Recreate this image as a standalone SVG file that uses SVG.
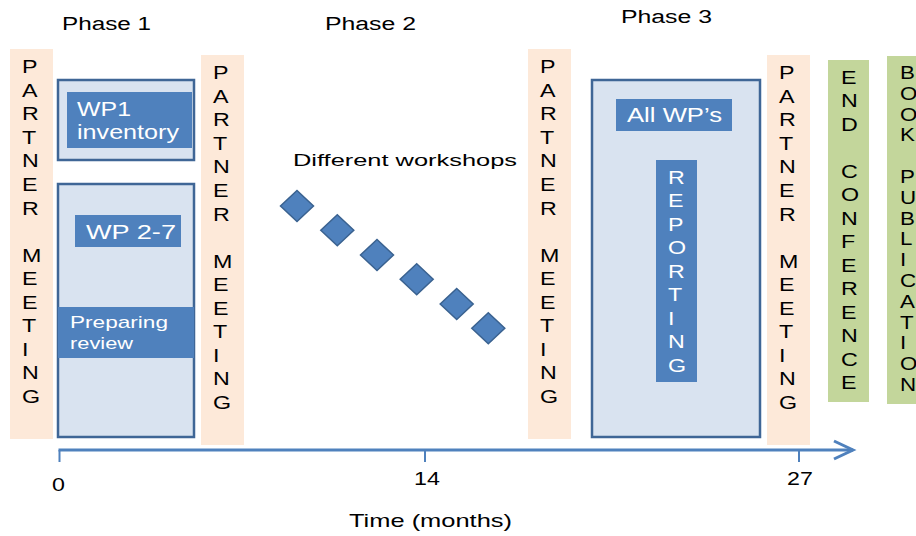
<svg xmlns="http://www.w3.org/2000/svg" width="916" height="536" viewBox="0 0 916 536">
<defs>
<style>
.t{font-family:"Liberation Sans",Arial,sans-serif;fill:#000}
.w{font-family:"Liberation Sans",Arial,sans-serif;fill:#fff}
.pm{fill:#FDE9D9}
.gr{fill:#C3D69B}
.outer{fill:#D9E3F0;stroke:#3F6696;stroke-width:2.5}
.inner{fill:#4F81BD}
.dia{fill:#4F81BD;stroke:#3A6290;stroke-width:1.5}
.ax{stroke:#4F81BD;fill:none;stroke-width:3}
.tk{stroke:#4F81BD;stroke-width:2}
.v{font-size:18.6px}
</style>
</defs>
<rect width="916" height="536" fill="#fff"/>

<g id="labels">
<text class="t" x="62" y="30" font-size="18" textLength="89" lengthAdjust="spacingAndGlyphs">Phase 1</text>
<text class="t" x="325" y="30" font-size="18" textLength="91" lengthAdjust="spacingAndGlyphs">Phase 2</text>
<text class="t" x="621" y="23" font-size="18" textLength="91" lengthAdjust="spacingAndGlyphs">Phase 3</text>
<text class="t" x="293" y="166" font-size="17.2" textLength="224" lengthAdjust="spacingAndGlyphs">Different workshops</text>
<text class="t" x="58.5" y="491" font-size="18.6" text-anchor="middle" transform="translate(58.5,0) scale(1.25,1) translate(-58.5,0)">0</text>
<text class="t" x="427" y="485" font-size="18.6" text-anchor="middle" transform="translate(427,0) scale(1.25,1) translate(-427,0)">14</text>
<text class="t" x="800" y="485" font-size="18.6" text-anchor="middle" transform="translate(800,0) scale(1.25,1) translate(-800,0)">27</text>
<text class="t" x="349" y="527" font-size="18.6" textLength="163" lengthAdjust="spacingAndGlyphs">Time (months)</text>
</g>

<g id="meeting1">
<rect class="pm" x="10" y="49" width="43" height="390"/>
<text class="t v" transform="translate(22,73.3) scale(1.25,1)"><tspan x="0" y="0">P</tspan><tspan x="0" dy="23.55">A</tspan><tspan x="0" dy="23.55">R</tspan><tspan x="0" dy="23.55">T</tspan><tspan x="0" dy="23.55">N</tspan><tspan x="0" dy="23.55">E</tspan><tspan x="0" dy="23.55">R</tspan><tspan x="0" dy="47.1">M</tspan><tspan x="0" dy="23.55">E</tspan><tspan x="0" dy="23.55">E</tspan><tspan x="0" dy="23.55">T</tspan><tspan x="0" dy="23.55">I</tspan><tspan x="0" dy="23.55">N</tspan><tspan x="0" dy="23.55">G</tspan></text>
</g>

<g id="meeting2">
<rect class="pm" x="201" y="55" width="43" height="390"/>
<text class="t v" transform="translate(213,79.3) scale(1.25,1)"><tspan x="0" y="0">P</tspan><tspan x="0" dy="23.55">A</tspan><tspan x="0" dy="23.55">R</tspan><tspan x="0" dy="23.55">T</tspan><tspan x="0" dy="23.55">N</tspan><tspan x="0" dy="23.55">E</tspan><tspan x="0" dy="23.55">R</tspan><tspan x="0" dy="47.1">M</tspan><tspan x="0" dy="23.55">E</tspan><tspan x="0" dy="23.55">E</tspan><tspan x="0" dy="23.55">T</tspan><tspan x="0" dy="23.55">I</tspan><tspan x="0" dy="23.55">N</tspan><tspan x="0" dy="23.55">G</tspan></text>
</g>

<g id="meeting3">
<rect class="pm" x="528" y="49" width="43" height="390"/>
<text class="t v" transform="translate(540,73.3) scale(1.25,1)"><tspan x="0" y="0">P</tspan><tspan x="0" dy="23.55">A</tspan><tspan x="0" dy="23.55">R</tspan><tspan x="0" dy="23.55">T</tspan><tspan x="0" dy="23.55">N</tspan><tspan x="0" dy="23.55">E</tspan><tspan x="0" dy="23.55">R</tspan><tspan x="0" dy="47.1">M</tspan><tspan x="0" dy="23.55">E</tspan><tspan x="0" dy="23.55">E</tspan><tspan x="0" dy="23.55">T</tspan><tspan x="0" dy="23.55">I</tspan><tspan x="0" dy="23.55">N</tspan><tspan x="0" dy="23.55">G</tspan></text>
</g>

<g id="meeting4">
<rect class="pm" x="767" y="55" width="43" height="390"/>
<text class="t v" transform="translate(779,79.3) scale(1.25,1)"><tspan x="0" y="0">P</tspan><tspan x="0" dy="23.55">A</tspan><tspan x="0" dy="23.55">R</tspan><tspan x="0" dy="23.55">T</tspan><tspan x="0" dy="23.55">N</tspan><tspan x="0" dy="23.55">E</tspan><tspan x="0" dy="23.55">R</tspan><tspan x="0" dy="47.1">M</tspan><tspan x="0" dy="23.55">E</tspan><tspan x="0" dy="23.55">E</tspan><tspan x="0" dy="23.55">T</tspan><tspan x="0" dy="23.55">I</tspan><tspan x="0" dy="23.55">N</tspan><tspan x="0" dy="23.55">G</tspan></text>
</g>

<g id="wp1">
<rect class="outer" x="58" y="80" width="136" height="80"/>
<rect class="inner" x="67" y="92" width="125" height="56"/>
<text class="w" x="77" y="116" font-size="20" textLength="54" lengthAdjust="spacingAndGlyphs">WP1</text>
<text class="w" x="77" y="139" font-size="20" textLength="102" lengthAdjust="spacingAndGlyphs">inventory</text>
</g>

<g id="wp27">
<rect class="outer" x="58" y="184" width="136" height="253"/>
<rect class="inner" x="75" y="215" width="106" height="32"/>
<text class="w" x="86" y="239" font-size="20" textLength="90" lengthAdjust="spacingAndGlyphs">WP 2-7</text>
<rect class="inner" x="58" y="307" width="136" height="51"/>
<text class="w" x="70" y="328" font-size="17" textLength="98" lengthAdjust="spacingAndGlyphs">Preparing</text>
<text class="w" x="70" y="349" font-size="17" textLength="63" lengthAdjust="spacingAndGlyphs">review</text>
</g>

<g id="workshops">
<polygon class="dia" points="297,190.5 313.5,206 297,221.5 280.5,206"/>
<polygon class="dia" points="337.3,214.8 353.8,230.3 337.3,245.8 320.8,230.3"/>
<polygon class="dia" points="377,239.5 393.5,255 377,270.5 360.5,255"/>
<polygon class="dia" points="416.7,263.8 433.2,279.3 416.7,294.8 400.2,279.3"/>
<polygon class="dia" points="456.7,288.5 473.2,304 456.7,319.5 440.2,304"/>
<polygon class="dia" points="488.3,312.8 504.8,328.3 488.3,343.8 471.8,328.3"/>
</g>

<g id="phase3">
<rect class="outer" x="592" y="80" width="168" height="357"/>
<rect class="inner" x="616" y="99" width="116" height="32"/>
<text class="w" x="627" y="122" font-size="19.5" textLength="95" lengthAdjust="spacingAndGlyphs">All WP’s</text>
<rect class="inner" x="656" y="160" width="41" height="222"/>
<text class="w v" transform="translate(668,184) scale(1.25,1)"><tspan x="0" y="0">R</tspan><tspan x="0" dy="23.5">E</tspan><tspan x="0" dy="23.5">P</tspan><tspan x="0" dy="23.5">O</tspan><tspan x="0" dy="23.5">R</tspan><tspan x="0" dy="23.5">T</tspan><tspan x="0" dy="23.5">I</tspan><tspan x="0" dy="23.5">N</tspan><tspan x="0" dy="23.5">G</tspan></text>
</g>

<g id="endconference">
<rect class="gr" x="828" y="60" width="41" height="342"/>
<text class="t v" transform="translate(841,84) scale(1.25,1)"><tspan x="0" y="0">E</tspan><tspan x="0" dy="23.5">N</tspan><tspan x="0" dy="23.5">D</tspan><tspan x="0" dy="47">C</tspan><tspan x="0" dy="23.5">O</tspan><tspan x="0" dy="23.5">N</tspan><tspan x="0" dy="23.5">F</tspan><tspan x="0" dy="23.5">E</tspan><tspan x="0" dy="23.5">R</tspan><tspan x="0" dy="23.5">E</tspan><tspan x="0" dy="23.5">N</tspan><tspan x="0" dy="23.5">C</tspan><tspan x="0" dy="23.5">E</tspan></text>
</g>

<g id="bookpublication">
<rect class="gr" x="887" y="56" width="40" height="348"/>
<text class="t v" transform="translate(900,79) scale(1.2,1)"><tspan x="0" y="0">B</tspan><tspan x="0" dy="20.8">O</tspan><tspan x="0" dy="20.8">O</tspan><tspan x="0" dy="20.8">K</tspan><tspan x="0" dy="41.6">P</tspan><tspan x="0" dy="20.8">U</tspan><tspan x="0" dy="20.8">B</tspan><tspan x="0" dy="20.8">L</tspan><tspan x="0" dy="20.8">I</tspan><tspan x="0" dy="20.8">C</tspan><tspan x="0" dy="20.8">A</tspan><tspan x="0" dy="20.8">T</tspan><tspan x="0" dy="20.8">I</tspan><tspan x="0" dy="20.8">O</tspan><tspan x="0" dy="20.8">N</tspan></text>
</g>

<g id="connectors">
<line class="ax" x1="58.5" y1="450" x2="853" y2="450"/>
<polyline class="ax" points="834,441 853,450 834,459" stroke-linejoin="miter"/>
<line class="tk" x1="59.5" y1="450" x2="59.5" y2="462"/>
<line class="tk" x1="425" y1="450" x2="425" y2="462"/>
<line class="tk" x1="799" y1="450" x2="799" y2="462"/>
</g>
</svg>
